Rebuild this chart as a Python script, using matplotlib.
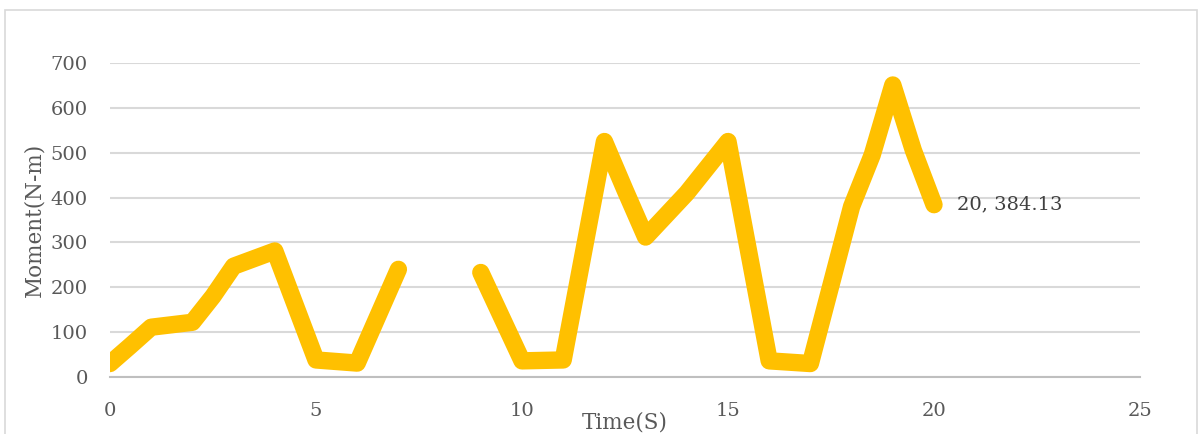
import matplotlib.pyplot as plt
from matplotlib.patches import Rectangle

## DATA
time_a = [0, 0.5, 1, 2, 2.5, 3, 4, 5, 6, 7]
moment_a = [30, 70, 111, 122, 180, 247, 281, 38, 31, 240]

time_b = [9, 10, 11, 12, 12.5, 13, 14, 15, 16, 17, 18, 18.5, 19, 19.5, 20]
moment_b = [233, 36, 38, 525, 417, 312, 410, 525, 36, 30, 380, 495, 651, 505, 384.13]

xticks = [0, 5, 10, 15, 20, 25]
yticks = [0, 100, 200, 300, 400, 500, 600, 700]

yellow = '#FFC000'
txt = '#595959'
plt.rcParams['font.family'] = ['DejaVu Serif']

fig = plt.figure(figsize=(12.04, 4.34), dpi=100)
ax = fig.add_axes([110/1204, 57/434, 1030/1204, 314/434])

#chart area border (bottom runs off the picture)
fig.patches.append(Rectangle((5/1204, -0.1), 1192/1204, 1.1 - 10/434, transform=fig.transFigure,
                             fill=False, edgecolor='#D9D9D9', linewidth=1.2))

for t, m in [(time_a, moment_a), (time_b, moment_b)]:
    ax.plot(t, m, color=yellow, linewidth=12.5, solid_capstyle='round', solid_joinstyle='round', zorder=3)

ax.annotate('20, 384.13', xy=(time_b[-1], moment_b[-1]), xytext=(23, 0), textcoords='offset pixels',
            va='center', ha='left', fontsize=14, color='#404040')

ax.set_xlim(0, 25)
ax.set_ylim(0, 700)
ax.set_xticks(xticks)
ax.set_yticks(yticks)
ax.grid(axis='y', color='#D9D9D9', linewidth=1.5)
ax.set_axisbelow(True)
for s in ['left', 'right', 'top']:
    ax.spines[s].set_visible(False)
ax.spines['bottom'].set_color('#BFBFBF')
ax.spines['bottom'].set_linewidth(1.5)
ax.tick_params(length=0, labelsize=14, labelcolor=txt)
ax.tick_params(axis='x', pad=18)
ax.tick_params(axis='y', pad=16)
ax.set_xlabel('Time(S)', fontsize=15.5, color=txt, labelpad=-6)
ax.set_ylabel('Moment(N-m)', fontsize=15.5, color=txt, labelpad=4)

fig.savefig('out.png', dpi=100)
